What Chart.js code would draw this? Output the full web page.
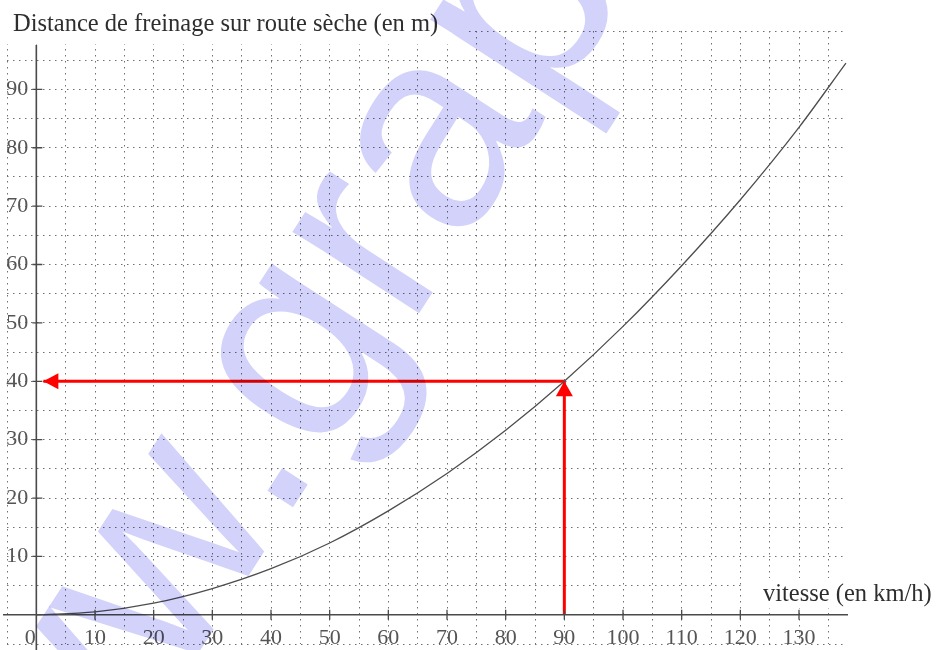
<!DOCTYPE html>
<html>
<head>
<meta charset="utf-8">
<script src="https://cdn.jsdelivr.net/npm/chart.js@4/dist/chart.umd.min.js"></script>
<style>
  html, body { margin: 0; padding: 0; background: #fff; }
  #wrap { width: 936px; height: 650px; }
</style>
</head>
<body>
<div id="wrap"><canvas id="c" width="936" height="650"></canvas></div>
<script>
// ---- data ----
const speeds    = [0, 10, 20, 30, 40, 50, 60, 70, 80, 90, 100, 110, 120, 130, 138];
const distances = [0, 0.5, 2, 4.5, 7.9, 12.3, 17.8, 24.2, 31.6, 40, 49.4, 59.8, 71.1, 83.5, 94.5];
const xTickLabels = [0, 10, 20, 30, 40, 50, 60, 70, 80, 90, 100, 110, 120, 130];
const yTickLabels = [10, 20, 30, 40, 50, 60, 70, 80, 90];
const xGridValues = [-5, 0, 5, 10, 15, 20, 25, 30, 35, 40, 45, 50, 55, 60, 65, 70, 75, 80, 85, 90, 95, 100, 105, 110, 115, 120, 125, 130, 135];
const yGridValues = [-5, 0, 5, 10, 15, 20, 25, 30, 35, 40, 45, 50, 55, 60, 65, 70, 75, 80, 85, 90, 95, 100];
const readSpeed = [90];
const readDistance = [40];
const arrowEndSpeed = [1.2];
const yTitle = 'Distance de freinage sur route sèche (en m)';
const xTitle = 'vitesse (en km/h)';
const watermark = 'www.graph';

const curvePts = speeds.map((v, i) => ({x: v, y: distances[i]}));
const vertArrow = [{x: readSpeed[0], y: 0}, {x: readSpeed[0], y: readDistance[0]}];
const horizArrow = [{x: readSpeed[0], y: readDistance[0]}, {x: arrowEndSpeed[0], y: readDistance[0]}];

const SERIF = '"Liberation Serif", "DejaVu Serif", serif';

function arrowHead(ctx, tx, ty, dx, dy, len, half) {
  const px = -dy, py = dx;
  ctx.beginPath();
  ctx.moveTo(tx, ty);
  ctx.lineTo(tx - dx * len + px * half, ty - dy * len + py * half);
  ctx.lineTo(tx - dx * len - px * half, ty - dy * len - py * half);
  ctx.closePath();
  ctx.fill();
}

const overlay = {
  id: 'overlay',
  afterDatasetsDraw(chart) {
    const ctx = chart.ctx;
    const xs = chart.scales.x, ys = chart.scales.y;
    const x0 = xs.getPixelForValue(0), y0 = ys.getPixelForValue(0);
    ctx.save();
    // white boxes behind titles
    ctx.fillStyle = '#ffffff';
    ctx.fillRect(0, 0, 468, 44);
    ctx.fillRect(745, 578, 191, 30);
    // titles
    ctx.fillStyle = '#2e2e2e';
    ctx.font = '24.5px ' + SERIF;
    ctx.textAlign = 'left';
    ctx.textBaseline = 'alphabetic';
    ctx.fillText(yTitle, 13, 31);
    ctx.fillText(xTitle, 763, 601);
    // axes
    ctx.strokeStyle = '#4a4a4a';
    ctx.lineWidth = 1.6;
    ctx.beginPath();
    ctx.moveTo(3, y0); ctx.lineTo(848, y0);
    ctx.moveTo(x0, 650); ctx.lineTo(x0, 45);
    ctx.stroke();
    // ticks
    ctx.lineWidth = 1.3;
    ctx.beginPath();
    xTickLabels.forEach(v => {
      if (v === 0) return;
      const px = xs.getPixelForValue(v);
      ctx.moveTo(px, y0 - 5); ctx.lineTo(px, y0 + 5);
    });
    yTickLabels.forEach(v => {
      const py = ys.getPixelForValue(v);
      ctx.moveTo(x0 - 4, py); ctx.lineTo(x0 + 6, py);
    });
    ctx.stroke();
    // tick labels
    ctx.fillStyle = '#555555';
    ctx.font = '22px ' + SERIF;
    ctx.textBaseline = 'middle';
    ctx.textAlign = 'center';
    xTickLabels.forEach(v => {
      const px = xs.getPixelForValue(v) + (v === 0 ? -6 : 0);
      ctx.fillText(String(v), px, y0 + 23);
    });
    ctx.textAlign = 'right';
    yTickLabels.forEach(v => {
      ctx.fillText(String(v), x0 - 8, ys.getPixelForValue(v));
    });
    // arrow heads
    ctx.fillStyle = '#ff0000';
    const tx = xs.getPixelForValue(readSpeed[0]), ty = ys.getPixelForValue(readDistance[0]);
    arrowHead(ctx, tx, ty, 0, -1, 15, 8.5);
    const hx = xs.getPixelForValue(arrowEndSpeed[0]);
    arrowHead(ctx, hx, ty, -1, 0, 15, 8);
    ctx.restore();
  },
  afterDraw(chart) {
    const ctx = chart.ctx;
    ctx.save();
    ctx.globalCompositeOperation = 'multiply';
    ctx.fillStyle = 'rgb(210,210,250)';
    const fs = 285;
    ctx.font = fs + 'px "Liberation Sans", Arial, sans-serif';
    ctx.textAlign = 'left';
    ctx.textBaseline = 'alphabetic';
    const idx = watermark.indexOf('.');
    const pre = ctx.measureText(watermark.slice(0, idx)).width;
    const dotW = ctx.measureText('.').width;
    ctx.translate(297, 475);
    ctx.rotate(-57 * Math.PI / 180);
    ctx.fillText(watermark, -(pre + dotW / 2), fs * 0.05);
    ctx.restore();
  }
};

new Chart(document.getElementById('c'), {
  type: 'line',
  data: {
    datasets: [
      { data: curvePts, borderColor: '#4d4d4d', borderWidth: 1.3, pointRadius: 0, cubicInterpolationMode: 'monotone', fill: false, clip: false },
      { data: vertArrow, borderColor: '#ff0000', borderWidth: 3, pointRadius: 0, fill: false },
      { data: horizArrow, borderColor: '#ff0000', borderWidth: 3, pointRadius: 0, fill: false }
    ]
  },
  options: {
    responsive: false,
    devicePixelRatio: 1,
    animation: false,
    layout: { padding: { left: 7, right: 93, top: 31, bottom: 6 } },
    plugins: { legend: { display: false }, tooltip: { enabled: false } },
    scales: {
      x: {
        type: 'linear', min: -5, max: 137.5,
        afterBuildTicks: s => { s.ticks = xGridValues.map(v => ({value: v})); },
        ticks: { display: false },
        border: { display: false, dash: [1.5, 4.5] },
        grid: { drawTicks: false, color: '#707070', lineWidth: 1 }
      },
      y: {
        type: 'linear', min: -5, max: 100,
        afterBuildTicks: s => { s.ticks = yGridValues.map(v => ({value: v})); },
        ticks: { display: false },
        border: { display: false, dash: [1.5, 4.5] },
        grid: { drawTicks: false, color: '#707070', lineWidth: 1 }
      }
    }
  },
  plugins: [overlay]
});
</script>
</body>
</html>
